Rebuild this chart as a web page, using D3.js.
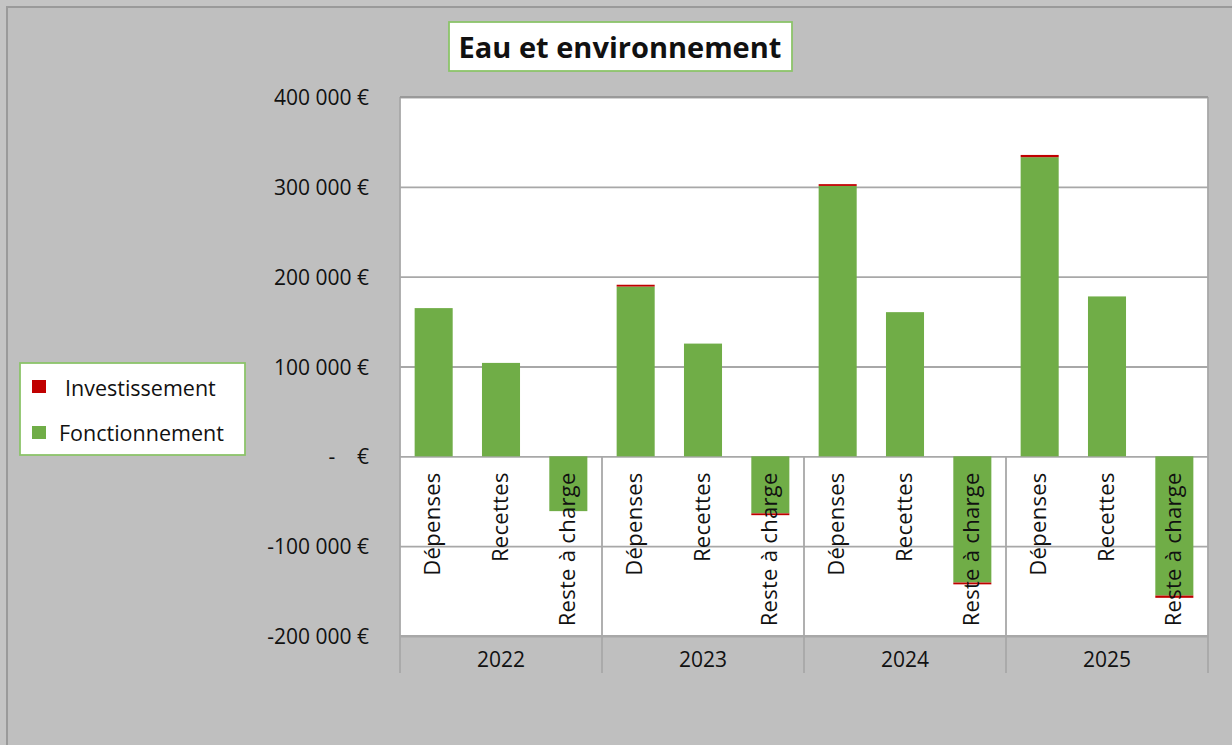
<!DOCTYPE html>
<html><head><meta charset="utf-8">
<script src="https://cdn.jsdelivr.net/npm/d3@7"></script>
<style>
html,body{margin:0;padding:0;background:#c4c4c4;overflow:hidden;}
text{font-family:"Open Sans",sans-serif;fill:#111;}
</style>
</head><body>
<svg id="chart" width="1232" height="745"></svg>
<script>
// ---- data ----
const years = ["2022", "2023", "2024", "2025"];
const categories = ["Dépenses", "Recettes", "Reste à charge"];
// Fonctionnement per year: [Dépenses, Recettes, Reste à charge]
const fonctionnement = [
  [165000, 104000, -61000],
  [189000, 125500, -63500],
  [301000, 160500, -140500],
  [333000, 178000, -155000]
];
// Investissement per year: [Dépenses, Recettes, Reste à charge]
const investissement = [
  [0, 0, 0],
  [2000, 0, -2000],
  [2000, 0, -2000],
  [2500, 0, -2500]
];
const yTicks = [-200000, -100000, 0, 100000, 200000, 300000, 400000];
const seriesKeys = ["Fonctionnement", "Investissement"];
const legendOrder = ["Investissement", "Fonctionnement"];
const titleText = "Eau et environnement";

// ---- layout ----
const svg = d3.select("#chart");
const plot = {left: 400, right: 1208, top: 97, bottom: 636};
const colors = {Fonctionnement: "#70AD47", Investissement: "#C00000"};
const gridColor = "#a8a8a8";

// outer chart frame
svg.append("rect").attr("x", 7).attr("y", 7).attr("width", 1240).attr("height", 760)
  .attr("fill", "#bfbfbf").attr("stroke", "#9a9a9a").attr("stroke-width", 2);

// scales
const y = d3.scaleLinear().domain([-200000, 400000]).range([plot.bottom, plot.top]);
const x0 = d3.scaleBand().domain(years).range([plot.left, plot.right]).padding(0);
const x1 = d3.scaleBand().domain(categories).range([0, x0.bandwidth()])
  .paddingInner(0.435).paddingOuter(0.2175);

// plot area
svg.append("rect").attr("x", plot.left).attr("y", plot.top)
  .attr("width", plot.right - plot.left).attr("height", plot.bottom - plot.top)
  .attr("fill", "#ffffff");

// gridlines
const grid = svg.append("g").attr("transform", `translate(${plot.left},0)`)
  .call(d3.axisLeft(y).tickValues(yTicks).tickSize(-(plot.right - plot.left)).tickFormat(""));
grid.select(".domain").remove();
grid.selectAll("line").attr("stroke", gridColor).attr("stroke-width", 1.8);

// group separators (from zero line down through the year row)
const bounds = years.map(yr => x0(yr)).concat([x0(years[years.length - 1]) + x0.bandwidth()]);
svg.append("g").selectAll("line").data(bounds).join("line")
  .attr("x1", d => d).attr("x2", d => d)
  .attr("y1", (d, i) => (i === 0 || i === bounds.length - 1) ? plot.top : y(0))
  .attr("y2", 673)
  .attr("stroke", gridColor).attr("stroke-width", 1.8);

// stacked data
const rows = [];
years.forEach((yr, i) => categories.forEach((c, j) => {
  rows.push({year: yr, cat: c, Fonctionnement: fonctionnement[i][j], Investissement: investissement[i][j]});
}));
const stacked = d3.stack().keys(seriesKeys).offset(d3.stackOffsetDiverging)(rows);

svg.append("g").selectAll("g").data(stacked).join("g")
  .attr("fill", s => colors[s.key])
  .selectAll("rect").data(s => s).join("rect")
  .attr("x", d => x0(d.data.year) + x1(d.data.cat))
  .attr("width", x1.bandwidth())
  .attr("y", d => y(Math.max(d[0], d[1])))
  .attr("height", d => Math.abs(y(d[0]) - y(d[1])));

// y axis labels
const frLocale = d3.formatLocale({decimal: ",", thousands: "\u00a0", grouping: [3], currency: ["", "\u00a0€"], minus: "-"});
const fmt = frLocale.format(",.0f");
const yAxis = svg.append("g").attr("transform", `translate(${plot.left},0)`)
  .call(d3.axisLeft(y).tickValues(yTicks).tickSize(0).tickPadding(31)
    .tickFormat(v => v === 0 ? "-\u00a0\u00a0\u00a0\u00a0€" : fmt(v) + "\u00a0€"));
yAxis.select(".domain").remove();
yAxis.selectAll("text").attr("font-size", 21).attr("dy", "0.36em")
  .style("font-family", '"Open Sans", sans-serif').attr("fill", "#111");

// category labels (rotated) per year group
years.forEach(yr => {
  const g = svg.append("g").attr("transform", `translate(${x0(yr)},${y(0)})`)
    .call(d3.axisBottom(x1).tickSize(0));
  g.select(".domain").remove();
  g.selectAll("text")
    .attr("transform", "rotate(-90)")
    .attr("text-anchor", "end")
    .attr("x", -16).attr("y", 0).attr("dy", "0.3em")
    .attr("font-size", 22).attr("letter-spacing", 0.3)
    .style("font-family", '"Open Sans", sans-serif').attr("fill", "#111");
});

// year axis
const xAxis = svg.append("g").attr("transform", `translate(0,${plot.bottom})`)
  .call(d3.axisBottom(x0).tickSize(0));
xAxis.select(".domain").remove();
xAxis.selectAll("text").attr("y", 31).attr("dy", 0).attr("font-size", 21)
  .style("font-family", '"Open Sans", sans-serif').attr("fill", "#111");

// plot area border lines
svg.append("line").attr("x1", plot.left).attr("x2", plot.right).attr("y1", plot.top).attr("y2", plot.top)
  .attr("stroke", "#999").attr("stroke-width", 2);
svg.append("line").attr("x1", plot.left).attr("x2", plot.right).attr("y1", plot.bottom).attr("y2", plot.bottom)
  .attr("stroke", gridColor).attr("stroke-width", 2);

// title box
svg.append("rect").attr("x", 449).attr("y", 22).attr("width", 343).attr("height", 49)
  .attr("fill", "#fff").attr("stroke", "#8cc46a").attr("stroke-width", 1.8);
svg.append("text").attr("x", 620).attr("y", 58).attr("text-anchor", "middle")
  .attr("font-size", 29).attr("font-weight", "bold").text(titleText);

// legend
svg.append("rect").attr("x", 20).attr("y", 363).attr("width", 225).attr("height", 92)
  .attr("fill", "#fff").attr("stroke", "#8cc46a").attr("stroke-width", 1.8);
const legendPos = [{sx: 32, sy: 380, tx: 65, ty: 396}, {sx: 32, sy: 426, tx: 59, ty: 441}];
const lg = svg.append("g").selectAll("g").data(legendOrder).join("g");
lg.append("rect").attr("x", (d, i) => legendPos[i].sx).attr("y", (d, i) => legendPos[i].sy)
  .attr("width", 14).attr("height", 13).attr("fill", d => colors[d]);
lg.append("text").attr("x", (d, i) => legendPos[i].tx).attr("y", (d, i) => legendPos[i].ty)
  .attr("font-size", 21.5).text(d => d);
</script>
</body></html>
